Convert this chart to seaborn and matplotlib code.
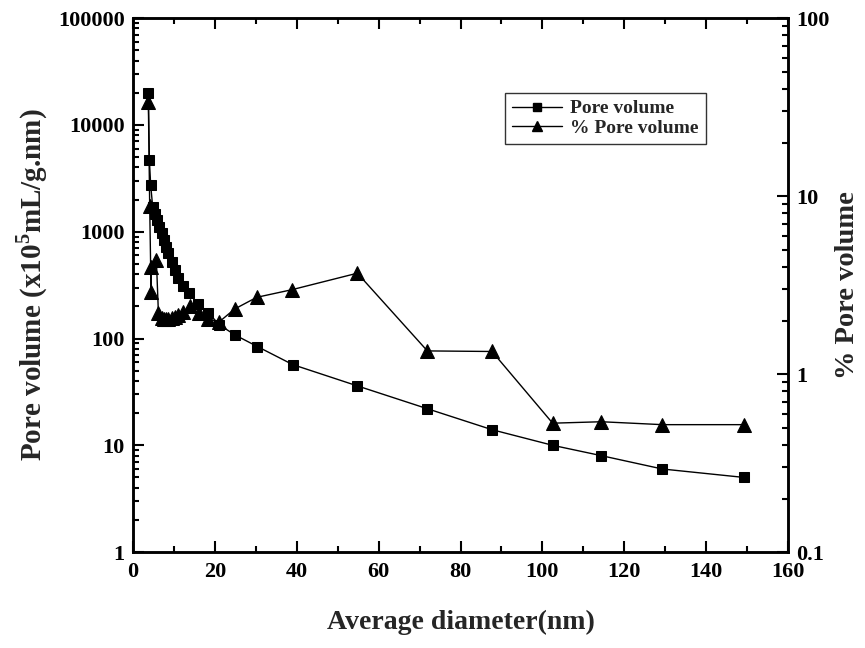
import numpy as np
import pandas as pd
import matplotlib
matplotlib.use("Agg")
import matplotlib.pyplot as plt
import seaborn as sns
from matplotlib.ticker import LogLocator, FixedLocator, FuncFormatter, MultipleLocator
from matplotlib.lines import Line2D

# ---- data ----
pv_diameter = [3.74, 3.99, 4.31, 4.8, 5.37, 5.94, 6.4, 7.0, 7.57, 8.06, 8.63, 9.45,
               10.26, 11.07, 12.3, 13.76, 15.96, 18.4, 21.0, 24.9, 30.4, 39.0, 54.8,
               71.9, 87.7, 102.5, 114.4, 129.3, 149.3]
pore_volume = [20000, 4700, 2730, 1710, 1480, 1285, 1110, 964, 834, 723, 626, 523,
               437, 365, 312, 264, 210, 175, 135, 108, 84, 57, 36,
               22, 14, 10, 8, 6, 5]

pct_diameter = [3.74, 4.07, 4.4, 4.5, 5.7, 6.2, 7.0, 7.6, 8.1, 8.6, 9.4, 10.3,
                11.1, 12.3, 13.9, 16.0, 18.4, 21.1, 24.8, 30.2, 38.8, 54.8,
                71.9, 87.7, 102.5, 114.4, 129.3, 149.3]
pct_pore_volume = [33.6, 8.8, 2.9, 4.0, 4.4, 2.2, 2.08, 2.05, 2.05, 2.05, 2.07, 2.1,
                   2.15, 2.22, 2.4, 2.2, 2.04, 1.97, 2.32, 2.70, 2.98, 3.69,
                   1.35, 1.34, 0.53, 0.54, 0.52, 0.52]

x_ticks = [0, 20, 40, 60, 80, 100, 120, 140, 160]
left_ticks = [1, 10, 100, 1000, 10000, 100000]
right_ticks = [0.1, 1, 10, 100]

df_pv = pd.DataFrame({"d": pv_diameter, "v": pore_volume})
df_pct = pd.DataFrame({"d": pct_diameter, "p": pct_pore_volume})

sns.set_theme(style="ticks")
plt.rcParams["font.family"] = ["Liberation Serif", "DejaVu Serif"]
plt.rcParams["font.weight"] = "bold"
plt.rcParams["axes.labelweight"] = "bold"
plt.rcParams["mathtext.fontset"] = "custom"
plt.rcParams["mathtext.bf"] = "Liberation Serif:bold"
plt.rcParams["mathtext.rm"] = "Liberation Serif:bold"

fig = plt.figure(figsize=(8.65, 6.48), dpi=100)
ax = fig.add_axes([0.1538, 0.148, 0.911 - 0.1538, 0.972 - 0.148])
ax2 = ax.twinx()

sns.lineplot(data=df_pv, x="d", y="v", ax=ax, color="black", marker="s",
             markersize=7, markeredgecolor="black", linewidth=1,
             estimator=None, sort=False, legend=False)
sns.lineplot(data=df_pct, x="d", y="p", ax=ax2, color="black", marker="^",
             markersize=10, markeredgecolor="black", linewidth=1,
             estimator=None, sort=False, legend=False)

fmt = FuncFormatter(lambda v, p: "%g" % v)

ax.set_xlim(0, 160)
ax.set_yscale("log")
ax.set_ylim(1, 100000)
ax.xaxis.set_major_locator(FixedLocator(x_ticks))
ax.xaxis.set_minor_locator(MultipleLocator(10))
ax.yaxis.set_major_locator(FixedLocator(left_ticks))
ax.yaxis.set_minor_locator(LogLocator(base=10, subs=np.arange(2, 10)))
ax.yaxis.set_major_formatter(fmt)
ax.xaxis.set_major_formatter(fmt)

ax2.set_yscale("log")
ax2.set_ylim(0.1, 100)
ax2.yaxis.set_major_locator(FixedLocator(right_ticks))
ax2.yaxis.set_minor_locator(LogLocator(base=10, subs=np.arange(2, 10)))
ax2.yaxis.set_major_formatter(fmt)

for a in (ax, ax2):
    for s in a.spines.values():
        s.set_linewidth(1.8)
        s.set_color("black")

ax.tick_params(axis="x", which="both", direction="in", top=True, bottom=True,
               labelsize=16, width=1.5, colors="black", pad=7)
ax.tick_params(axis="x", which="major", length=8)
ax.tick_params(axis="x", which="minor", length=4)
ax.tick_params(axis="y", which="both", direction="in", left=True, right=False,
               labelsize=16, width=1.5, colors="black", pad=6)
ax.tick_params(axis="y", which="major", length=8)
ax.tick_params(axis="y", which="minor", length=4)
ax2.tick_params(axis="y", which="both", direction="in", right=True, left=False,
                labelsize=16, width=1.5, colors="black", pad=6)
ax2.tick_params(axis="y", which="major", length=8)
ax2.tick_params(axis="y", which="minor", length=4)
for lab in ax.get_xticklabels() + ax.get_yticklabels() + ax2.get_yticklabels():
    lab.set_fontweight("bold")

ax.set_xlabel("Average diameter(nm)", fontsize=20, fontweight="bold", labelpad=20)
ax.set_ylabel(r"Pore volume (x10$^\mathbf{5}$mL/g.nm)", fontsize=21, fontweight="bold", labelpad=6)
ax2.set_ylabel("% Pore volume", fontsize=20.5, fontweight="bold", labelpad=4)

handles = [Line2D([], [], color="black", marker="s", markersize=6, linewidth=1),
           Line2D([], [], color="black", marker="^", markersize=7, linewidth=1)]
leg = ax2.legend(handles, ["Pore volume", "% Pore volume"], loc="upper left",
                 bbox_to_anchor=(0.568, 0.86), borderaxespad=0, frameon=True,
                 fancybox=False, edgecolor="black",
                 prop={"weight": "bold", "size": 14},
                 handlelength=2.6, borderpad=0.35, labelspacing=0.12,
                 handletextpad=0.4)
leg.get_frame().set_linewidth(1.0)

fig.savefig("out.png", dpi=100)
